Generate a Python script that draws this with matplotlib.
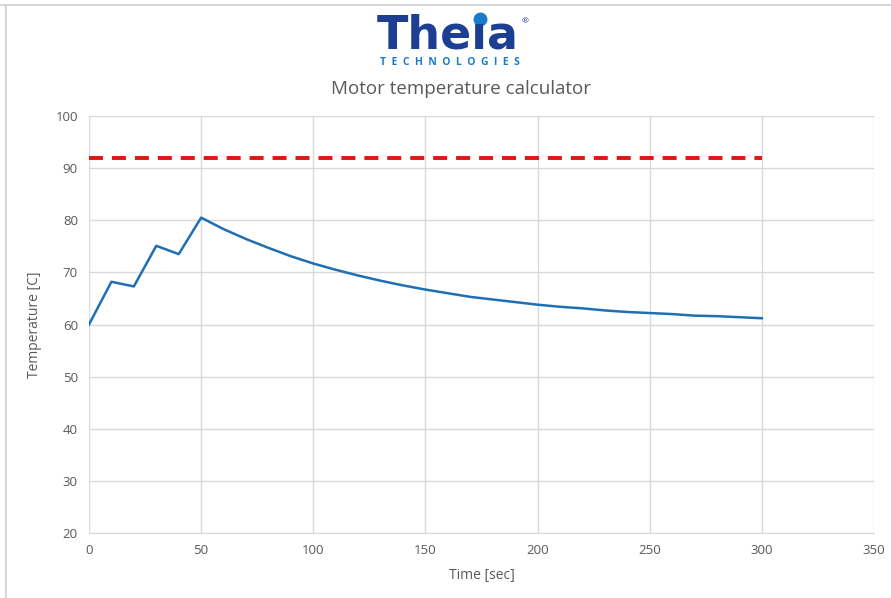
"""Motor temperature calculator chart (Theia Technologies style)."""

import matplotlib

matplotlib.use("Agg")
import matplotlib.pyplot as plt
from matplotlib.lines import Line2D

# Temperature trace, every 10 s
TIME_SEC = [0, 10, 20, 30, 40, 50, 60, 70, 80, 90, 100, 110, 120, 130, 140,
            150, 160, 170, 180, 190, 200, 210, 220, 230, 240, 250, 260, 270,
            280, 290, 300]
TEMP_C = [60.0, 68.2, 67.3, 75.1, 73.5, 80.5, 78.3, 76.4, 74.7, 73.1, 71.7,
          70.5, 69.4, 68.4, 67.5, 66.7, 66.0, 65.3, 64.8, 64.3, 63.8, 63.4,
          63.1, 62.7, 62.4, 62.2, 62.0, 61.7, 61.6, 61.4, 61.2]

# Maximum temperature limit line
LIMIT_TIME = [0, 300]
LIMIT_TEMP = [92, 92]

X_TICKS = [0, 50, 100, 150, 200, 250, 300, 350]
Y_TICKS = [20, 30, 40, 50, 60, 70, 80, 90, 100]

GRAY_TXT = "#595959"
GRID = "#d9d9d9"
BLUE = "#1f6fb5"
LOGO_DARK = "#1c3f94"
LOGO_LIGHT = "#1a7cc9"

plt.rcParams["font.family"] = ["Open Sans", "DejaVu Sans"]

fig = plt.figure(figsize=(8.91, 5.98), dpi=100)
ax = fig.add_axes((89 / 891, 1 - 533 / 598, 785 / 891, 417 / 598))

ax.plot(TIME_SEC, TEMP_C, color=BLUE, lw=1.8, solid_joinstyle="round")
ax.plot(LIMIT_TIME, LIMIT_TEMP, color="#e01414", lw=2.8, dashes=(3.6, 2.3))

ax.set_xlim(0, 350)
ax.set_ylim(20, 100)
ax.set_xticks(X_TICKS)
ax.set_yticks(Y_TICKS)
ax.grid(True, color=GRID, lw=1.0)
ax.set_axisbelow(True)
for side in ("top", "right", "left"):
    ax.spines[side].set_visible(False)
ax.spines["bottom"].set_color(GRID)
ax.tick_params(length=0, colors=GRAY_TXT, labelsize=9.5, pad=8)

ax.set_xlabel("Time [sec]", color=GRAY_TXT, fontsize=10, labelpad=8)
ax.set_ylabel("Temperature [C]", color=GRAY_TXT, fontsize=10, labelpad=10)

# Title and logo
fig.text(0.517, 0.851, "Motor temperature calculator", ha="center",
         va="center", fontsize=13.5, color=GRAY_TXT)
fig.text(0.503, 0.940, "The\u0131a", ha="center", va="center", fontsize=33,
         fontweight="bold", color=LOGO_DARK, family="DejaVu Sans")
fig.text(0.505, 0.896, "T  E  C  H  N  O  L  O  G  I  E  S", ha="center",
         va="center", fontsize=7.5, fontweight="bold", color=LOGO_LIGHT)
fig.text(0.589, 0.963, "\u00ae", ha="center", va="center", fontsize=6,
         color=LOGO_DARK)
fig.add_artist(Line2D([0.539], [0.968], marker="o", ms=9, color=LOGO_LIGHT,
                      transform=fig.transFigure))

# screenshot frame
fig.add_artist(Line2D([0, 1], [0.992, 0.992], color="#cfcfcf", lw=1.2,
                      transform=fig.transFigure))
fig.add_artist(Line2D([0.007, 0.007], [0, 0.992], color="#cfcfcf", lw=1.2,
                      transform=fig.transFigure))

fig.savefig("out.png", dpi=100)
